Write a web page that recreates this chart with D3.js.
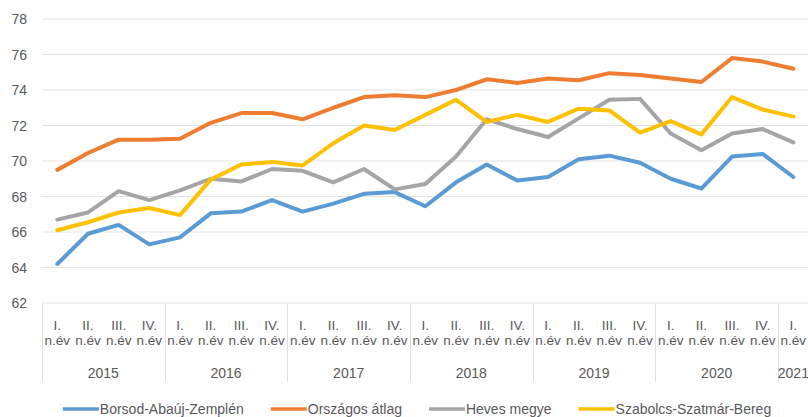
<!DOCTYPE html>
<html>
<head>
<meta charset="utf-8">
<script src="https://cdn.jsdelivr.net/npm/d3@7"></script>
<style>
  body { margin: 0; background: #fff; }
  text { font-family: "Liberation Sans", Arial, sans-serif; fill: #595959; }
</style>
</head>
<body>
<div id="svg"></div>
<script>
var years = ["2015", "2016", "2017", "2018", "2019", "2020", "2021"];
var quarters = ["I.", "II.", "III.", "IV."];
var yTicks = [62, 64, 66, 68, 70, 72, 74, 76, 78];

var seriesNames = ["Borsod-Abaúj-Zemplén", "Országos átlag", "Heves megye", "Szabolcs-Szatmár-Bereg"];
var seriesColors = ["#5b9bd5", "#ed7d31", "#a5a5a5", "#ffc000"];

var borsod = [64.2, 65.9, 66.4, 65.3, 65.7, 67.05, 67.15, 67.8, 67.15, 67.6, 68.15, 68.25,
              67.45, 68.8, 69.8, 68.9, 69.1, 70.1, 70.3, 69.9, 69.0, 68.45, 70.25, 70.4, 69.1];
var orszagos = [69.5, 70.45, 71.2, 71.2, 71.25, 72.15, 72.7, 72.7, 72.35, 73.0, 73.6, 73.7,
                73.6, 74.0, 74.6, 74.4, 74.65, 74.55, 74.95, 74.85, 74.65, 74.45, 75.8, 75.6, 75.2];
var heves = [66.7, 67.1, 68.3, 67.8, 68.35, 69.0, 68.85, 69.55, 69.45, 68.8, 69.55, 68.4,
             68.7, 70.25, 72.35, 71.8, 71.35, 72.4, 73.45, 73.5, 71.55, 70.6, 71.55, 71.8, 71.05];
var szabolcs = [66.1, 66.55, 67.1, 67.35, 66.95, 68.95, 69.8, 69.95, 69.75, 71.0, 72.0, 71.75,
                72.6, 73.45, 72.2, 72.6, 72.2, 72.95, 72.85, 71.6, 72.25, 71.5, 73.6, 72.9, 72.5];

var seriesValues = [borsod, orszagos, heves, szabolcs];

// category list: quarters for each year, only I. for 2021
var cats = [];
years.forEach(function (y, yi) {
  var n = (yi == years.length - 1) ? 1 : 4;
  for (var q = 0; q < n; q++) cats.push({ year: y, q: quarters[q] });
});

var W = 808, H = 417;
var svg = d3.select("#svg")
  .append("svg")
    .attr("width", W)
    .attr("height", H);

var x = d3.scaleBand()
  .domain(d3.range(cats.length))
  .range([42, 808.7]);

var y = d3.scaleLinear()
  .domain([62, 78])
  .range([303, 19]);

// gridlines
svg.append("g")
  .selectAll("line")
  .data(yTicks)
  .enter()
  .append("line")
    .attr("x1", 42)
    .attr("x2", W)
    .attr("y1", function (d) { return y(d); })
    .attr("y2", function (d) { return y(d); })
    .style("stroke", "#e3e3e3")
    .style("stroke-width", 1);

// y labels
svg.append("g")
  .selectAll("text")
  .data(yTicks)
  .enter()
  .append("text")
    .attr("x", 27)
    .attr("y", function (d) { return y(d) + 5; })
    .attr("text-anchor", "end")
    .style("font-size", "14px")
    .text(function (d) { return d; });

// year separators
var sepIdx = [];
cats.forEach(function (c, i) { if (c.q == "I.") sepIdx.push(i); });
svg.append("g")
  .selectAll("line")
  .data(sepIdx)
  .enter()
  .append("line")
    .attr("x1", function (d) { return Math.round(x(d)) + 0.5; })
    .attr("x2", function (d) { return Math.round(x(d)) + 0.5; })
    .attr("y1", 303)
    .attr("y2", 382)
    .style("stroke", "#e0e0e0");

// quarter labels
var qg = svg.append("g")
  .selectAll("text")
  .data(cats)
  .enter()
  .append("text")
    .attr("text-anchor", "middle")
    .style("font-size", "13.5px");
qg.append("tspan")
  .attr("x", function (d, i) { return x(i) + x.bandwidth() / 2; })
  .attr("y", 330)
  .text(function (d) { return d.q; });
qg.append("tspan")
  .attr("x", function (d, i) { return x(i) + x.bandwidth() / 2; })
  .attr("y", 345)
  .text("n.év");

// year labels
svg.append("g")
  .selectAll("text")
  .data(years)
  .enter()
  .append("text")
    .attr("x", function (d) {
      var idx = cats.map(function (c, i) { return c.year == d ? i : -1; }).filter(function (i) { return i >= 0; });
      return (x(idx[0]) + x(idx[idx.length - 1]) + x.bandwidth()) / 2;
    })
    .attr("y", 378)
    .attr("text-anchor", "middle")
    .style("font-size", "14px")
    .text(function (d) { return d; });

// lines
var line = d3.line()
  .x(function (d, i) { return x(i) + x.bandwidth() / 2; })
  .y(function (d) { return y(d); });

svg.append("g")
  .selectAll("path")
  .data(seriesValues)
  .enter()
  .append("path")
    .attr("d", line)
    .style("fill", "none")
    .style("stroke", function (d, i) { return seriesColors[i]; })
    .style("stroke-width", 4)
    .style("stroke-linejoin", "round")
    .style("stroke-linecap", "round");

// legend
var legend = svg.append("g");
var lx = 0;
seriesNames.forEach(function (name, i) {
  var g = legend.append("g").attr("transform", "translate(" + lx + ",0)");
  g.append("line")
    .attr("x1", 0).attr("x2", 36)
    .attr("y1", 0).attr("y2", 0)
    .style("stroke", seriesColors[i])
    .style("stroke-width", 3.5);
  var t = g.append("text")
    .attr("x", 37)
    .attr("y", 5)
    .style("font-size", "14px")
    .style("fill", "#595959")
    .text(name);
  lx += 37 + t.node().getComputedTextLength() + 27;
});
legend.attr("transform", "translate(" + (417 - (lx - 27) / 2) + ",409)");
</script>
</body>
</html>
